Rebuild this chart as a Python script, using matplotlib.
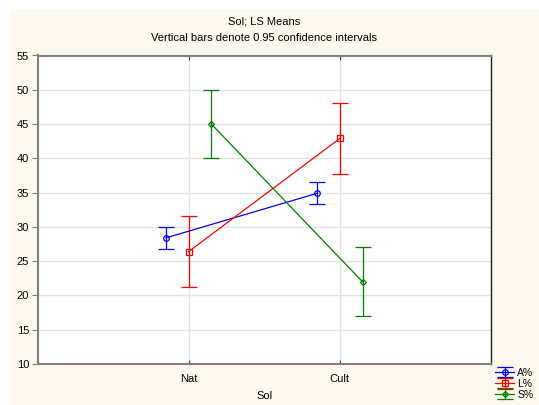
import matplotlib
matplotlib.use("Agg")
import matplotlib.pyplot as plt
from matplotlib.patches import Rectangle

# LS means by soil type, with 0.95 confidence half-widths
sol = ["Nat", "Cult"]
series = ["A%", "L%", "S%"]
means = {
    "A%": [28.4, 34.9],
    "L%": [26.4, 42.9],
    "S%": [45.0, 22.0],
}
ci = {
    "A%": [1.6, 1.6],
    "L%": [5.2, 5.2],
    "S%": [5.0, 5.0],
}
colors = {"A%": "#0000ff", "L%": "#ff0000", "S%": "#008000"}
markers = {"A%": "o", "L%": "s", "S%": "D"}
offsets = {"A%": -0.15, "L%": 0.0, "S%": 0.15}

plt.rcParams["font.family"] = ["Liberation Sans", "DejaVu Sans"]
plt.rcParams["font.size"] = 8

W, H = 539, 405
fig = plt.figure(figsize=(W / 100, H / 100), dpi=100)
fig.patch.set_facecolor("white")
fig.patches.append(Rectangle((10 / W, 0), 1, 1 - 9 / H, transform=fig.transFigure,
                             facecolor="#fef9ee", edgecolor="none", zorder=-10))

ax = fig.add_axes([37.5 / W, 1 - 364 / H, (491 - 37.5) / W, (364 - 55.5) / H])
ax.set_facecolor("white")

handles = []
for name in series:
    xs = [i + 1 + offsets[name] for i in range(len(sol))]
    h = ax.errorbar(xs, means[name], yerr=ci[name], color=colors[name],
                    marker=markers[name], markersize=4 if name != "S%" else 3,
                    markerfacecolor="none", markeredgewidth=0.9,
                    linewidth=0.9, elinewidth=0.9, capsize=5.5, capthick=0.9,
                    label=name, zorder=3)
    handles.append(h)

ax.set_xlim(0, 3)
ax.set_ylim(10, 55)
ax.set_yticks(range(10, 56, 5))
ax.set_xticks([1, 2])
ax.set_xticklabels(sol)
ax.grid(True, color="#e2e2e2", linewidth=1)
ax.set_axisbelow(True)

ax.tick_params(axis="y", direction="out", length=4, color="#808080", pad=2)
ax.tick_params(axis="x", direction="in", length=3, top=True, color="#404040", pad=7)

for side in ["left", "bottom", "top"]:
    ax.spines[side].set_color("#808080")
    ax.spines[side].set_linewidth(1.5)
ax.spines["right"].set_color("#202020")
ax.spines["right"].set_linewidth(1)

ax.set_xlabel("Sol", labelpad=5)
fig.text(264 / W, 1 - 22 / H, "Sol; LS Means", ha="center", va="center", fontsize=8)
fig.text(264 / W, 1 - 38 / H, "Vertical bars denote 0.95 confidence intervals",
         ha="center", va="center", fontsize=8)

fig.legend(handles=handles, loc="lower left", bbox_to_anchor=(490 / W, 0 / H),
           frameon=False, fontsize=7.5, handlelength=1.8, handletextpad=0.3,
           labelspacing=0.1, borderpad=0.3, borderaxespad=0.2)

fig.savefig("out.png", dpi=100)
